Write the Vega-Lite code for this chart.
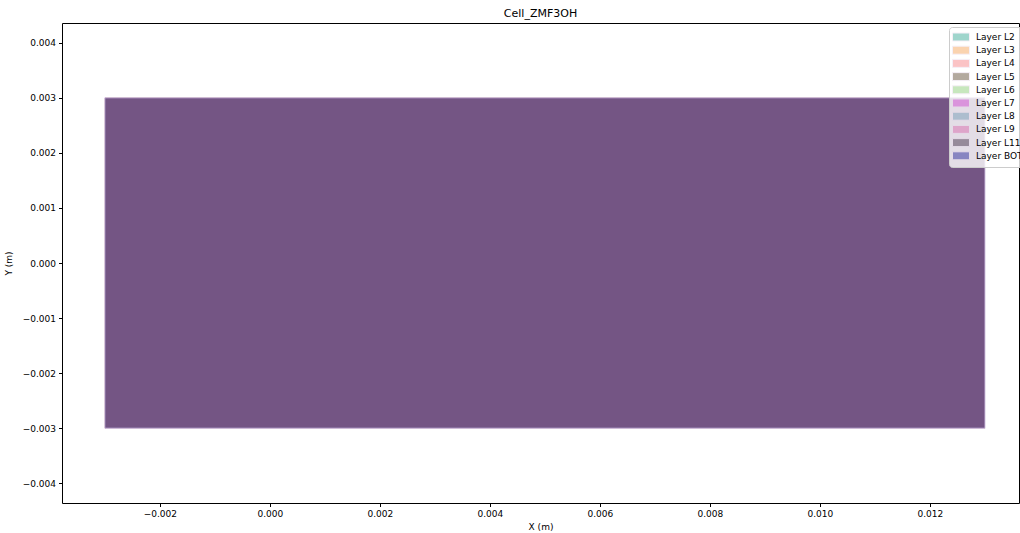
{
  "$schema": "https://vega.github.io/schema/vega-lite/v6.json",
  "width": 957,
  "height": 480,
  "autosize": {"type": "none"},
  "padding": {"left": 62, "top": 23, "right": 1, "bottom": 30},
  "background": "white",
  "config": {
    "font": "DejaVu Sans",
    "view": {"stroke": "#000000", "strokeWidth": 1},
    "axis": {"grid": false, "domain": false, "tickColor": "#000", "tickSize": 3.5, "labelFontSize": 9, "labelColor": "#000", "titleFontSize": 9, "titleColor": "#000", "titleFontWeight": "normal", "labelPadding": 3}
  },
  "title": {"text": "Cell_ZMF3OH", "fontSize": 11, "fontWeight": "normal", "color": "#000", "offset": 4},
  "data": {
    "values": [
      {"layer": "Layer L2", "x0": -0.003, "x1": 0.013, "y0": -0.003, "y1": 0.003},
      {"layer": "Layer L3", "x0": -0.003, "x1": 0.013, "y0": -0.003, "y1": 0.003},
      {"layer": "Layer L4", "x0": -0.003, "x1": 0.013, "y0": -0.003, "y1": 0.003},
      {"layer": "Layer L5", "x0": -0.003, "x1": 0.013, "y0": -0.003, "y1": 0.003},
      {"layer": "Layer L6", "x0": -0.003, "x1": 0.013, "y0": -0.003, "y1": 0.003},
      {"layer": "Layer L7", "x0": -0.003, "x1": 0.013, "y0": -0.003, "y1": 0.003},
      {"layer": "Layer L8", "x0": -0.003, "x1": 0.013, "y0": -0.003, "y1": 0.003},
      {"layer": "Layer L9", "x0": -0.003, "x1": 0.013, "y0": -0.003, "y1": 0.003},
      {"layer": "Layer L11", "x0": -0.003, "x1": 0.013, "y0": -0.003, "y1": 0.003},
      {"layer": "Layer BOT", "x0": -0.003, "x1": 0.013, "y0": -0.003, "y1": 0.003}
    ]
  },
  "mark": {"type": "rect", "fillOpacity": 0.2, "stroke": "#e8d8ec", "strokeOpacity": 0.25, "strokeWidth": 1},
  "encoding": {
    "x": {"field": "x0", "type": "quantitative", "title": "X (m)",
      "scale": {"domain": [-0.00378, 0.01362], "nice": false, "zero": false},
      "axis": {"values": [-0.002, 0, 0.002, 0.004, 0.006, 0.008, 0.01, 0.012], "format": ".3f", "titlePadding": 4}},
    "x2": {"field": "x1"},
    "y": {"field": "y0", "type": "quantitative", "title": "Y (m)",
      "scale": {"domain": [-0.00436, 0.00436], "nice": false, "zero": false},
      "axis": {"values": [-0.004, -0.003, -0.002, -0.001, 0, 0.001, 0.002, 0.003, 0.004], "format": ".3f", "titlePadding": 9}},
    "y2": {"field": "y1"},
    "color": {"field": "layer", "type": "nominal",
      "scale": {
        "domain": ["Layer L2", "Layer L3", "Layer L4", "Layer L5", "Layer L6", "Layer L7", "Layer L8", "Layer L9", "Layer L11", "Layer BOT"],
        "range": ["#119882", "#f59339", "#f76b70", "#432a10", "#75c55c", "#cf2acf", "#5c8eac", "#d952a2", "#25102a", "#03038c"]
      },
      "legend": {
        "title": null, "orient": "none", "legendX": 887, "legendY": 4,
        "symbolType": "M-2,-0.94L2,-0.94L2,0.94L-2,0.94Z", "symbolSize": 72,
        "symbolOpacity": 0.4, "symbolStrokeWidth": 1, "symbolOffset": 2,
        "labelFontSize": 9, "labelColor": "#000", "labelOffset": 10,
        "rowPadding": 1.2, "padding": 5, "fillColor": "rgba(255,255,255,0.8)",
        "strokeColor": "#cccccc", "cornerRadius": 3
      }
    }
  }
}
